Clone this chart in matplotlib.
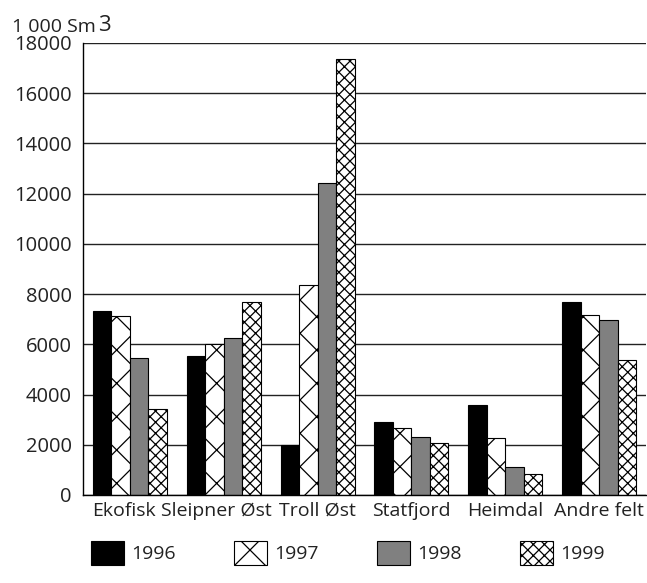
import matplotlib
matplotlib.use("Agg")
import matplotlib.pyplot as plt
import matplotlib.transforms as mtransforms
import numpy as np

# Produksjon per felt, 1 000 Sm3
felt = ["Ekofisk", "Sleipner Øst", "Troll Øst", "Statfjord", "Heimdal", "Andre felt"]
aar = ["1996", "1997", "1998", "1999"]
v1996 = [7340, 5540, 2000, 2900, 3580, 7670]
v1997 = [7130, 6000, 8360, 2650, 2280, 7170]
v1998 = [5470, 6240, 12420, 2300, 1100, 6980]
v1999 = [3410, 7670, 17350, 2060, 820, 5360]
yticks = [0, 2000, 4000, 6000, 8000, 10000, 12000, 14000, 16000, 18000]

plt.rcParams['font.family'] = ['Open Sans', 'DejaVu Sans']
plt.rcParams['hatch.linewidth'] = 0.9

W, H = 647, 583
fig = plt.figure(figsize=(W / 100, H / 100), dpi=100)
ax = fig.add_axes([83 / W, 1 - 495 / H, (646 - 83) / W, (495 - 43) / H])

x = np.arange(len(felt))
w = 0.197
stiler = [
    dict(facecolor="black", hatch=None),
    dict(facecolor="white", hatch="x"),
    dict(facecolor="#808080", hatch=None),
    dict(facecolor="white", hatch="xxx"),
]
serier = [v1996, v1997, v1998, v1999]
for i, (verdier, stil) in enumerate(zip(serier, stiler)):
    ax.bar(x + (i - 1.5) * w, verdier, width=w, edgecolor="black",
           linewidth=0.8, label=aar[i], zorder=3, **stil)

ax.set_xlim(-0.5, len(felt) - 0.5)
ax.set_ylim(0, 18000)
ax.set_yticks(yticks)
ax.set_yticklabels([str(t) for t in yticks])
ax.set_xticks(x)
ax.set_xticklabels(felt)
ax.tick_params(axis="both", length=0, colors="#222222")
ax.tick_params(axis="y", pad=8, labelsize=14.5)
ax.tick_params(axis="x", pad=5, labelsize=14)

# de to første etikettene står litt til venstre i originalen
for lbl, dx in zip(ax.get_xticklabels()[:2], [-6, -7]):
    lbl.set_transform(lbl.get_transform() +
                      mtransforms.ScaledTranslation(dx / 100, 0, fig.dpi_scale_trans))

ax.yaxis.grid(True, color="#222222", linewidth=1, zorder=0)
ax.set_axisbelow(True)
for s in ["top", "right"]:
    ax.spines[s].set_visible(False)
for s in ["left", "bottom"]:
    ax.spines[s].set_color("black")
    ax.spines[s].set_linewidth(1)
    ax.spines[s].set_zorder(4)

# enhet oppe til venstre
fig.text(12 / W, 1 - 32 / H, "1 000 Sm", fontsize=14, color="#222222",
         ha="left", va="baseline")
fig.text(98 / W, 1 - 31 / H, "3", fontsize=16, color="#222222",
         ha="left", va="baseline")

leg = fig.legend(loc="center left", bbox_to_anchor=(91 / W, 1 - 553 / H),
                 ncol=4, frameon=False, fontsize=14, handlelength=1.7,
                 handleheight=1.55, handletextpad=0.36, columnspacing=3.0,
                 borderpad=0, borderaxespad=0)
for t in leg.get_texts():
    t.set_color("#222222")

fig.savefig("out.png", dpi=100)
